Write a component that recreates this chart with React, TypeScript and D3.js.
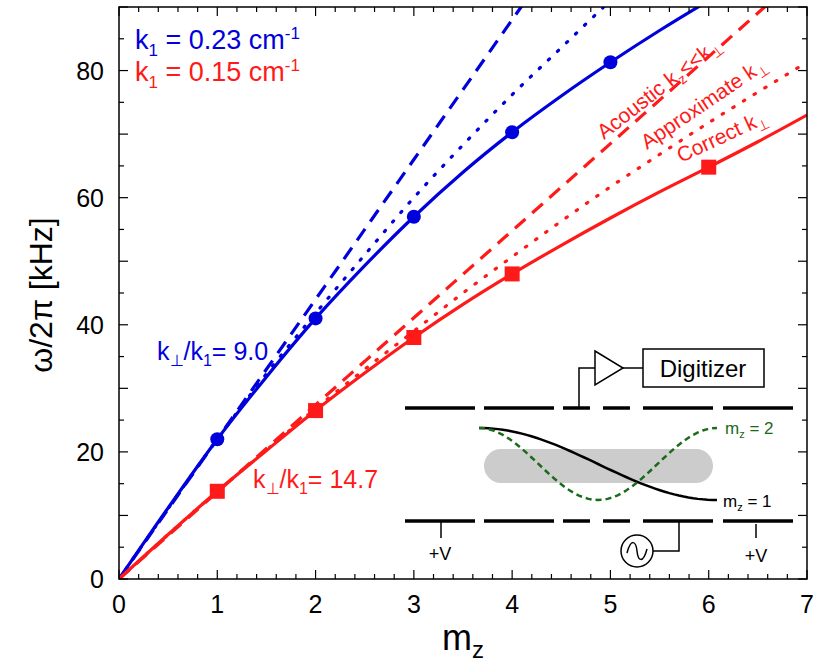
import React from "react";
import * as d3 from "d3";

const mz = [0, 0.5, 1, 1.5, 2, 2.5, 3, 3.5, 4, 4.5, 5, 5.5, 6, 6.5, 7];
const blueCorrect = [0, 11.2, 22, 31.8, 41, 49.3, 57, 64, 70.3, 76, 81.3, 86.3, 91, 95.5, 100];
const blueApprox = [0, 11.1, 22, 32.3, 41.8, 51, 60, 68.3, 76.2, 83.6, 91, 98, 105, 112, 119];
const blueAcoustic = [0, 11, 22, 33, 44, 55, 66, 77, 88, 99, 110, 121, 132, 143, 154];
const redCorrect = [0, 7, 13.8, 20.2, 26.5, 32.4, 38, 43.2, 48, 52.5, 56.8, 60.9, 64.8, 68.8, 73];
const redApprox = [0, 7, 13.8, 20.3, 26.8, 33, 39, 45, 50.7, 56.3, 61.7, 66.8, 71.8, 76.6, 81.3];
const redAcoustic = [0, 6.85, 13.7, 20.55, 27.4, 34.25, 41.1, 47.95, 54.8, 61.65, 68.5, 75.35, 82.2, 89.05, 95.9];
const bluePointsX = [1, 2, 3, 4, 5];
const bluePointsY = [22, 41, 57, 70.3, 81.3];
const redPointsX = [1, 2, 3, 4, 6];
const redPointsY = [13.8, 26.5, 38, 48, 64.8];
const xTicks = [0, 1, 2, 3, 4, 5, 6, 7];
const yTicks = [0, 20, 40, 60, 80];

const BLUE = "#0000dd";
const RED = "#ff1a1a";

export default function App() {
  const L = 119, R = 807, T = 7, B = 579;
  const x = d3.scaleLinear().domain([0, 7]).range([L, R]);
  const y = d3.scaleLinear().domain([0, 90]).range([B, T]);
  const line = (vals: number[]) =>
    d3.line<number>().x((_, i) => x(mz[i])).y((v) => y(v)).curve(d3.curveMonotoneX)(vals) || "";
  const minorX = d3.range(0, 7.001, 0.2);
  const minorY = d3.range(0, 90.001, 5);
  const font = "Helvetica, Arial, 'Liberation Sans', sans-serif";
  const segs = [[405, 475], [484, 554], [563, 590], [603, 630], [643, 713], [723, 793]];
  const cx0 = 479, cx1 = 717, yTop = 428, yBot = 500;
  const n = d3.range(0, 1.0001, 0.02);
  const m1 = d3.line<number>()(n.map((t) => [cx0 + t * (cx1 - cx0), yTop + (yBot - yTop) * (1 - Math.cos(Math.PI * t)) / 2] as [number, number])) || "";
  const m2 = d3.line<number>()(n.map((t) => [cx0 + t * (cx1 - cx0), yTop + (yBot - yTop) * (1 - Math.cos(2 * Math.PI * t)) / 2] as [number, number])) || "";
  return (
    <svg width={815} height={667} style={{ position: "absolute", left: 0, top: 0 }} fontFamily={font}>
      <defs>
        <clipPath id="c"><rect x={L} y={T} width={R - L} height={B - T} /></clipPath>
      </defs>
      <g clipPath="url(#c)" fill="none" strokeWidth={3.2}>
        <path d={line(blueAcoustic)} stroke={BLUE} strokeDasharray="14 9" />
        <path d={line(blueApprox)} stroke={BLUE} strokeDasharray="1.5 11" strokeLinecap="round" />
        <path d={line(blueCorrect)} stroke={BLUE} />
        <path d={line(redAcoustic)} stroke={RED} strokeDasharray="14 9" />
        <path d={line(redApprox)} stroke={RED} strokeDasharray="1.5 11" strokeLinecap="round" />
        <path d={line(redCorrect)} stroke={RED} />
      </g>
      {bluePointsX.map((v, i) => <circle key={i} cx={x(v)} cy={y(bluePointsY[i])} r={7} fill={BLUE} />)}
      {redPointsX.map((v, i) => <rect key={i} x={x(v) - 7.5} y={y(redPointsY[i]) - 7.5} width={15} height={15} fill={RED} />)}
      <rect x={L} y={T} width={R - L} height={B - T} fill="none" stroke="#000" strokeWidth={1.5} />
      {minorX.map((v, i) => {
        const major = Math.abs(v - Math.round(v)) < 1e-6;
        const l = major ? 9 : 5;
        return <g key={i} stroke="#000" strokeWidth={1.2}>
          <line x1={x(v)} x2={x(v)} y1={B} y2={B - l} />
          <line x1={x(v)} x2={x(v)} y1={T} y2={T + l} />
        </g>;
      })}
      {minorY.map((v, i) => {
        const l = v % 10 === 0 ? 9 : 5;
        return <g key={i} stroke="#000" strokeWidth={1.2}>
          <line x1={L} x2={L + l} y1={y(v)} y2={y(v)} />
          <line x1={R} x2={R - l} y1={y(v)} y2={y(v)} />
        </g>;
      })}
      {xTicks.map((v) => <text key={v} x={x(v)} y={613} fontSize={25} textAnchor="middle">{v}</text>)}
      {yTicks.map((v) => <text key={v} x={104} y={y(v) + 9} fontSize={25} textAnchor="end">{v}</text>)}
      <text x={463} y={650} fontSize={36} textAnchor="middle">m<tspan fontSize={24} dy={8}>z</tspan></text>
      <text transform="translate(52,295) rotate(-90)" fontSize={32} textAnchor="middle">ω/2π  [kHz]</text>
      <text x={135} y={49} fontSize={27} fill={BLUE}>k<tspan fontSize={17} dy={7}>1</tspan><tspan dy={-7}> = 0.23 cm</tspan><tspan fontSize={17} dy={-10}>-1</tspan></text>
      <text x={135} y={81} fontSize={27} fill={RED}>k<tspan fontSize={17} dy={7}>1</tspan><tspan dy={-7}> = 0.15 cm</tspan><tspan fontSize={17} dy={-10}>-1</tspan></text>
      <text x={157} y={360} fontSize={25} fill={BLUE}>k<tspan fontSize={16} dy={6}>⊥</tspan><tspan dy={-6}>/k</tspan><tspan fontSize={16} dy={6}>1</tspan><tspan dy={-6}>= 9.0</tspan></text>
      <text x={253} y={488} fontSize={25} fill={RED}>k<tspan fontSize={16} dy={6}>⊥</tspan><tspan dy={-6}>/k</tspan><tspan fontSize={16} dy={6}>1</tspan><tspan dy={-6}>= 14.7</tspan></text>
      <text transform="translate(604,140) rotate(-38)" fontSize={21} fill={RED}>Acoustic k<tspan fontSize={14} dy={5}>z</tspan><tspan dy={-5}>&lt;&lt;k</tspan><tspan fontSize={14} dy={5}>⊥</tspan></text>
      <text transform="translate(647,150) rotate(-34)" fontSize={21} fill={RED}>Approximate k<tspan fontSize={14} dy={5}>⊥</tspan></text>
      <text transform="translate(681,163) rotate(-25)" fontSize={21} fill={RED}>Correct k<tspan fontSize={14} dy={5}>⊥</tspan></text>
      <rect x={484} y={449} width={229} height={34} rx={17} fill="#cccccc" />
      {segs.map((s, i) => <g key={i} stroke="#000" strokeWidth={3.5}>
        <line x1={s[0]} x2={s[1]} y1={408} y2={408} />
        <line x1={s[0]} x2={s[1]} y1={521} y2={521} />
      </g>)}
      <g stroke="#000" strokeWidth={1.5} fill="none">
        <polyline points="579,408 579,368 595,368" />
        <polygon points="595,351 623,368 595,385" fill="#fff" />
        <line x1={623} x2={643} y1={368} y2={368} />
        <rect x={643} y={349} width={121} height={38} fill="#fff" />
        <line x1={441} x2={441} y1={521} y2={538} />
        <line x1={756} x2={756} y1={524} y2={538} />
        <polyline points="653,551 679,551 679,521" />
        <circle cx={637} cy={551} r={16} fill="#fff" />
        <path d="M627,553 C631,538 636,541 637,551 C638,561 643,564 647,549" />
      </g>
      <text x={703} y={377} fontSize={24} textAnchor="middle">Digitizer</text>
      <text x={440} y={560} fontSize={18} textAnchor="middle">+V</text>
      <text x={756} y={562} fontSize={18} textAnchor="middle">+V</text>
      <path d={m1} fill="none" stroke="#000" strokeWidth={2.5} />
      <path d={m2} fill="none" stroke="#1a6b1a" strokeWidth={2.5} strokeDasharray="6 4" />
      <text x={725} y={434} fontSize={17} fill="#1a6b1a">m<tspan fontSize={11} dy={4}>z</tspan><tspan dy={-4}> = 2</tspan></text>
      <text x={723} y={507} fontSize={17} fill="#000">m<tspan fontSize={11} dy={4}>z</tspan><tspan dy={-4}> = 1</tspan></text>
    </svg>
  );
}
